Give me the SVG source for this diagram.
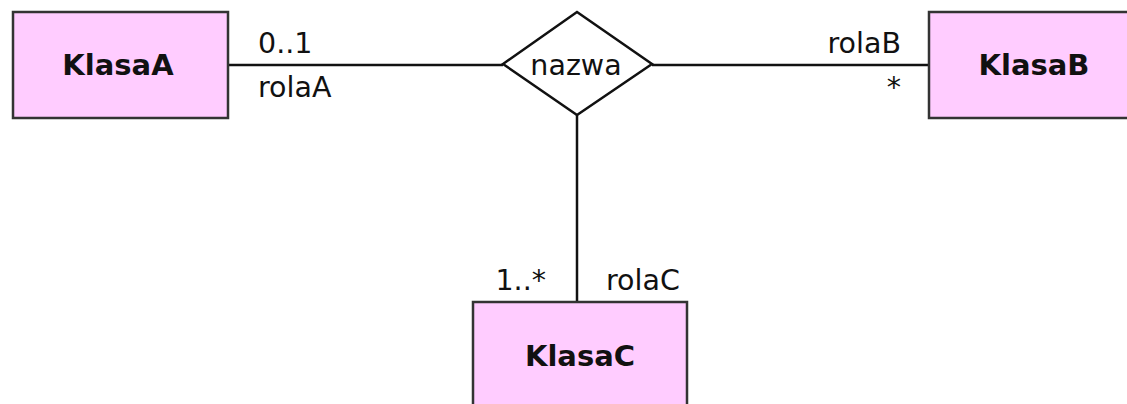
<svg xmlns="http://www.w3.org/2000/svg" width="1127" height="404" viewBox="0 0 1127 404">
<style>
.cls{fill:#ffccff;stroke:#333;stroke-width:2.5}
.cn{fill:#111;font-family:"DejaVu Sans",sans-serif;font-size:29px;font-weight:bold;text-anchor:middle}
.lb{fill:#111;font-family:"DejaVu Sans",sans-serif;font-size:28.5px}
.ln{stroke:#111;stroke-width:2.5;fill:none}
</style>
<rect width="1127" height="404" fill="#fff"/>
<g id="connectors">
<line class="ln" x1="228" y1="65" x2="503" y2="65"/>
<line class="ln" x1="652" y1="65" x2="928" y2="65"/>
<line class="ln" x1="577" y1="115" x2="577" y2="302"/>
<text class="lb" x="258" y="53">0..1</text>
<text class="lb" x="258" y="97">rolaA</text>
<text class="lb" x="901" y="53" text-anchor="end">rolaB</text>
<text class="lb" x="901" y="97" text-anchor="end">*</text>
<text class="lb" x="546" y="290" text-anchor="end">1..*</text>
<text class="lb" x="606" y="290">rolaC</text>
</g>
<g id="nazwa">
<polygon points="503,64 577,12 652,64 577,115" fill="#fff" stroke="#111" stroke-width="2.5"/>
<text class="lb" x="576" y="75" text-anchor="middle">nazwa</text>
</g>
<g id="KlasaA">
<rect class="cls" x="13" y="12" width="215" height="106"/>
<text class="cn" x="118" y="75">KlasaA</text>
</g>
<g id="KlasaB">
<rect class="cls" x="929" y="12" width="215" height="106"/>
<text class="cn" x="1034" y="75">KlasaB</text>
</g>
<g id="KlasaC">
<rect class="cls" x="473" y="302" width="214" height="120"/>
<text class="cn" x="580" y="366">KlasaC</text>
</g>
</svg>
